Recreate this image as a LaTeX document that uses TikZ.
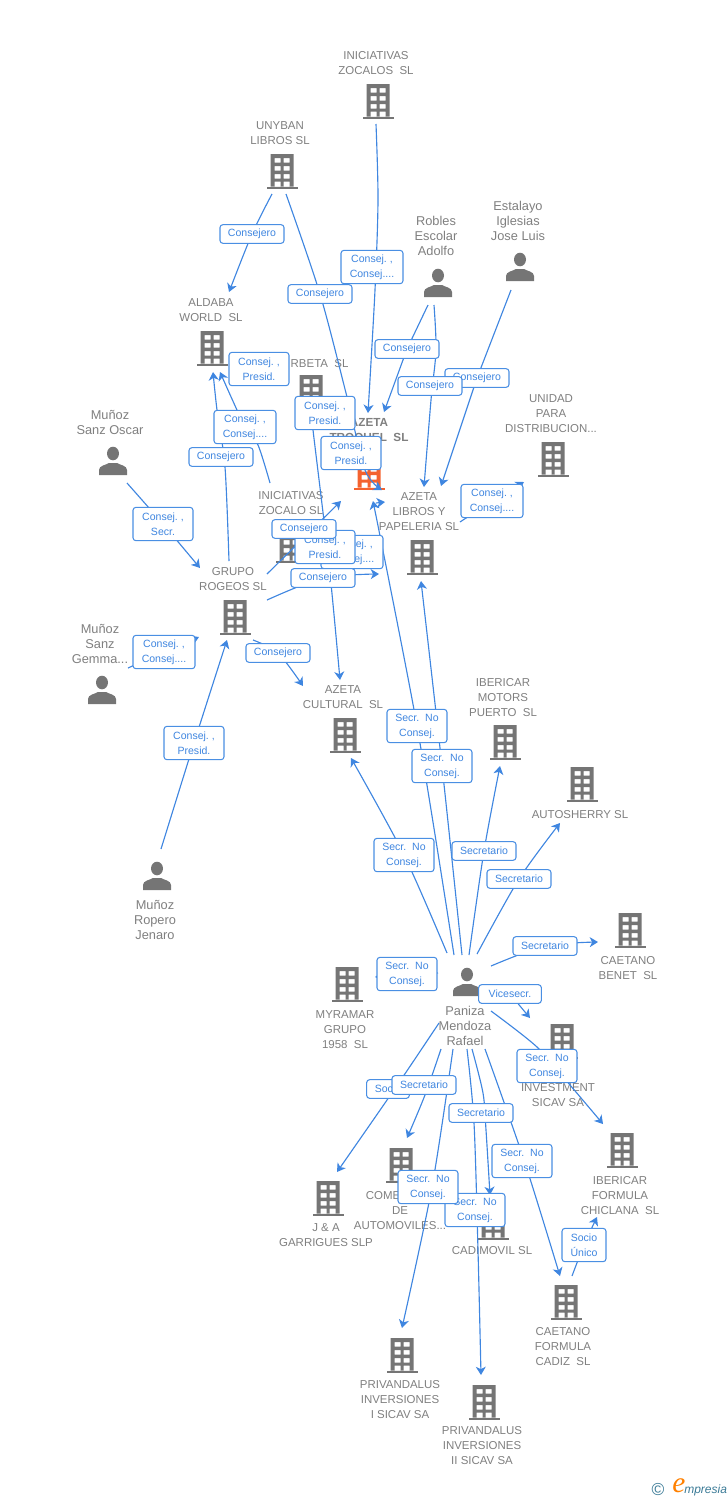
\documentclass[tikz,border=0pt]{standalone}
\usepackage{fontspec}
\setmainfont{Liberation Sans}
\newfontfamily\logoserif{Liberation Serif}
\usetikzlibrary{arrows.meta}
\pgfdeclarelayer{entlayer}
\pgfdeclarelayer{linelayer}
\pgfsetlayers{entlayer,linelayer,main}
\definecolor{icong}{HTML}{757575}
\definecolor{textg}{HTML}{7F7F7F}
\definecolor{linkb}{HTML}{3F86E0}
\definecolor{boxb}{HTML}{4A8FE3}
\definecolor{orng}{HTML}{F4622F}
\definecolor{logob}{HTML}{3A7A96}
\tikzset{
  ent/.style={align=center,text=textg,inner sep=0pt,yshift=-0.75pt,font=\fontsize{8.6}{11.25}\selectfont},
  who/.style={ent,font=\fontsize{9.6}{11.25}\selectfont},
  entbold/.style={ent,font=\fontsize{8.8}{11.25}\selectfont\bfseries},
  lab/.style={draw=boxb,fill=white,rounded corners=2.2pt,line width=0.8pt,align=center,text=linkb,
    inner sep=0pt,font=\fontsize{7.9}{11.25}\selectfont},
  lab1/.style={lab,minimum width=48pt,minimum height=14pt},
  lab2/.style={lab,minimum width=45pt,minimum height=25pt},
  conn/.style={draw=linkb,line width=0.85pt,-{Stealth[length=6.2pt,width=7.5pt,inset=1.8pt]}},
  pics/bldg/.style={code={
    \fill[#1] (-15.5,15.5) rectangle (15.5,17.5);
    \fill[#1,even odd rule] (-11.5,-17) rectangle (11.5,15.5)
      (-7.5,-13) rectangle (-1.5,-8.5) (1.5,-13) rectangle (7.5,-8.5)
      (-7.5,-5) rectangle (-1.5,-0.5) (1.5,-5) rectangle (7.5,-0.5)
      (-7.5,3) rectangle (-1.5,7.5) (1.5,3) rectangle (7.5,7.5)
      (-7.5,10.5) rectangle (-1.5,15.5) (1.5,10.5) rectangle (7.5,15.5);
  }},
  pics/persn/.style={code={
    \fill[icong] (0,-7.5) ellipse (6 and 6.8);
    \fill[icong] (-14,14) -- (-14,9) .. controls (-14,4.5) and (-7,4) .. (-4,2) -- (4,2)
      .. controls (7,4) and (14,4.5) .. (14,9) -- (14,14) -- cycle;
  }}
}
\begin{document}
\begin{tikzpicture}[x=0.75pt,y=-0.75pt]
\useasboundingbox (0,0) rectangle (728,1500);
\begin{pgfonlayer}{entlayer}
\node[ent] (zocalos) at (376,62.5) {INICIATIVAS\\ZOCALOS\ \ SL};
\pic at (378,101) {bldg=icong};
\node[ent] (unyban) at (280,132.5) {UNYBAN\\LIBROS SL};
\pic at (282,171) {bldg=icong};
\node[ent] (aldaba) at (211,309.5) {ALDABA\\WORLD\ \ SL};
\pic at (212,348) {bldg=icong};
\node[who] (robles) at (436,235) {Robles\\Escolar\\Adolfo};
\pic at (438,283) {persn};
\node[who] (estalayo) at (518,220) {Estalayo\\Iglesias\\Jose Luis};
\pic at (520,267) {persn};
\node[ent] (corbeta) at (311,363) {\phantom{CO}RBETA\ \ SL};
\pic at (311,392) {bldg=icong};
\node[entbold] (troquel) at (369,430.5) {AZETA\\TROQUEL\ \ SL};
\pic at (369,472) {bldg=orng};
\node[ent] (unidad) at (551,413) {UNIDAD\\PARA\\DISTRIBUCION...};
\pic at (553,459) {bldg=icong};
\node[who] (oscar) at (110,421.5) {Muñoz\\Sanz Oscar};
\pic at (113,461) {persn};
\node[ent] (libros) at (419,511) {AZETA\\LIBROS Y\\PAPELERIA SL};
\pic at (422,557) {bldg=icong};
\node[ent] (zocalo) at (291,502.5) {INICIATIVAS\\ZOCALO SL};
\pic at (291,545) {bldg=icong};
\node[ent] (rogeos) at (233,578.5) {GRUPO\\ROGEOS SL};
\pic at (235,617) {bldg=icong};
\node[who] (gemma) at (100,643) {Muñoz\\Sanz\\Gemma...};
\pic at (102,690) {persn};
\node[ent] (cultural) at (343,696.5) {AZETA\\CULTURAL\ \ SL};
\pic at (345,735) {bldg=icong};
\node[ent] (motors) at (503,697) {IBERICAR\\MOTORS\\PUERTO\ \ SL};
\pic at (505,742) {bldg=icong};
\node[ent] (autosherry) at (580,814) {AUTOSHERRY SL};
\pic at (582,784) {bldg=icong};
\node[who] (jenaro) at (155,919) {Muñoz\\Ropero\\Jenaro};
\pic at (157,876) {persn};
\node[ent] (benet) at (628,967.5) {CAETANO\\BENET\ \ SL};
\pic at (630,930) {bldg=icong};
\node[ent] (myramar) at (345,1029) {MYRAMAR\\GRUPO\\1958\ \ SL};
\pic at (347,984) {bldg=icong};
\node[who] (paniza) at (465,1025) {Paniza\\Mendoza\\Rafael};
\pic at (467,982) {persn};
\node[ent] (investment) at (558,1087) {\phantom{ABAC}S\\INVESTMENT\\SICAV SA};
\pic at (562,1041) {bldg=icong};
\node[ent] (chiclana) at (620,1195) {IBERICAR\\FORMULA\\CHICLANA\ \ SL};
\pic at (622,1150) {bldg=icong};
\node[ent] (garrigues) at (326,1234.5) {J \& A\\GARRIGUES SLP};
\pic at (328,1198) {bldg=icong};
\node[ent] (comercial) at (400,1210) {COME\phantom{RCIAL}\\DE\\AUTOMOVILES...};
\pic at (401,1165) {bldg=icong};
\node[ent] (cadimovil) at (492,1250) {CADIMOVIL SL};
\pic at (493,1222) {bldg=icong};
\node[ent] (cadiz) at (563,1346) {CAETANO\\FORMULA\\CADIZ\ \ SL};
\pic at (566,1302) {bldg=icong};
\node[ent] (priv1) at (400,1399) {PRIVANDALUS\\INVERSIONES\\I SICAV SA};
\pic at (402,1355) {bldg=icong};
\node[ent] (priv2) at (482,1445) {PRIVANDALUS\\INVERSIONES\\II SICAV SA};
\pic at (484,1402) {bldg=icong};
\end{pgfonlayer}

% connector labels, drawn last and on top
\node[lab1] (l1) at (252,234) {Consejero};
\node[lab2,minimum width=46.5pt] (l2) at (372,267) {Consej.\ ,\\Consej....};
\node[lab1] (l3) at (320,294) {Consejero};
\node[lab1] (l4) at (407,349) {Consejero};
\node[lab1] (l5) at (477,378) {Consejero};
\node[lab1] (l6) at (430,386) {Consejero};
\node[lab2] (l7) at (259,369) {Consej.\ ,\\Presid.};
\node[lab2,minimum width=46.5pt] (l8) at (245,427) {Consej.\ ,\\Consej....};
\node[lab1] (l9) at (221,457) {Consejero};
\node[lab2] (l10) at (325,413) {Consej.\ ,\\Presid.};
\node[lab2] (l11) at (351,453) {Consej.\ ,\\Presid.};
\node[lab2] (l12) at (163,524) {Consej.\ ,\\Secr.};
\node[lab2,minimum width=46.5pt] (l13) at (492,501) {Consej.\ ,\\Consej....};
\node[lab2,minimum width=46.5pt] (l14) at (352,552) {Consej.\ ,\\Consej....};
\node[lab2] (l15) at (325,547) {Consej.\ ,\\Presid.};
\node[lab1] (l16) at (304,529) {Consejero};
\node[lab1] (l17) at (323,578) {Consejero};
\node[lab2,minimum width=46.5pt] (l18) at (164,652) {Consej.\ ,\\Consej....};
\node[lab1] (l19) at (278,653) {Consejero};
\node[lab2] (l20) at (194,743) {Consej.\ ,\\Presid.};
\node[lab2] (l21) at (417,726) {Secr.\ \ No\\Consej.};
\node[lab2] (l22) at (442,766) {Secr.\ \ No\\Consej.};
\node[lab2] (l23) at (404,855) {Secr.\ \ No\\Consej.};
\node[lab1] (l24) at (484,851) {Secretario};
\node[lab1] (l25) at (519,879) {Secretario};
\node[lab1] (l26) at (545,946) {Secretario};
\node[lab2] (l27) at (407,974) {Secr.\ \ No\\Consej.};
\node[lab1,minimum width=47pt] (l28) at (510,994) {Vicesecr.};
\node[lab2] (l29) at (547,1066) {Secr.\ \ No\\Consej.};
\node[lab1,minimum width=32pt] (l30) at (388,1089) {Socio};
\node[lab1] (l31) at (424,1085) {Secretario};
\node[lab1] (l32) at (481,1113) {Secretario};
\node[lab2] (l33) at (522,1161) {Secr.\ \ No\\Consej.};
\node[lab2] (l35) at (475,1210) {Secr.\ \ No\\Consej.};
\node[lab2] (l34) at (428,1187) {Secr.\ \ No\\Consej.};
\node[lab2,minimum width=33pt] (l36) at (584,1245) {Socio\\Único};

\foreach \n/\x/\y in {
 a1/376/124,a1w/378/200,a1v/375/290,b1/368/413,
 a2/272/194,b2/229/292,
 a3/286/194,a3w/347/397,a3v/365/470,b3/382/490,
 a4/428/305,b4/384/412,
 a5/434/305,a5w/436/350,a5v/431/400,b5/424/487,
 a6/511/290,b6/441/486,
 a7/460/522,b7/524/482,
 a8/229/561,a8w/225/467,a8v/217/410,b8/213/372,
 a9/270/483,a9w/258/445,b9/220/372,
 a10/127/483,b10/200/568,
 a11/128/668,b11/199/637,
 a12/161/849,b12/227/640,
 a13/253/640,b13/303/686,
 a14/267/574,b14/341/501,
 a15/267/600,b15/379/574,
 a16/311/410,a16w/313/430,a16v/329/564,b16/340/680,
 a17/454/955,b17/373/501,
 a17b/376/503,b17b/385/502,
 a18/462/955,b18/421/581,
 a19/447/953,b19/351/758,
 a20/469/955,b20/500/766,
 a21/477/954,b21/560/823,
 a22/491/966,b22/598/942,
 a23/438/973,b23/375/977,
 a24/500/985,b24/530/1018,
 a25/491/1011,a25w/537/1047,a25v/570/1085,b25/603/1124,
 a26/439/1023,a26w/396/1087,b26/337/1172,
 a27/441/1049,a27w/425/1095,b27/407/1138,
 a28/453/1049,a28w/432/1187,b28/402/1328,
 a29/467/1049,a29w/474/1123,a29v/478/1250,b29/481/1375,
 a30/472/1049,a30w/483/1093,a30v/486/1130,b30/490/1195,
 a31/485/1049,a31w/524/1160,b31/560/1276,
 a32/572/1276,b32/597/1217}{\coordinate (\n) at (\x,\y);}

\begin{pgfonlayer}{linelayer}
\draw[conn] plot[smooth] coordinates {(a1) (a1w) (a1v) (b1)};
\draw[conn] plot[smooth] coordinates {(a2) (l1.center) (b2)};
\draw[conn] plot[smooth] coordinates {(a3) (l3.center) (a3w) (a3v) (b3)};
\draw[conn] (a4) -- (l4.center) -- (b4);
\draw[conn] plot[smooth] coordinates {(a5) (a5w) (a5v) (b5)};
\draw[conn] (a6) -- (l5.center) -- (b6);
\draw[conn] (a7) -- (l13.center) -- (b7);
\draw[conn] plot[smooth] coordinates {(a8) (a8w) (a8v) (b8)};
\draw[conn] plot[smooth] coordinates {(a9) (a9w) (l8.center) (b9)};
\draw[conn] plot[smooth] coordinates {(a10) (l12.center) (b10)};
\draw[conn] (a11) -- (l18.center) -- (b11);
\draw[conn] plot[smooth] coordinates {(a12) (l20.center) (b12)};
\draw[conn] plot[smooth] coordinates {(a13) (l19.center) (b13)};
\draw[conn] (a14) -- (b14);
\draw[conn] plot[smooth] coordinates {(a15) (l17.center) (b15)};
\draw[conn] plot[smooth] coordinates {(a16) (a16w) (a16v) (b16)};
\draw[conn] plot[smooth] coordinates {(a17) (l21.center) (b17)};
\draw[conn] (a17b) -- (b17b);
\draw[conn] plot[smooth] coordinates {(a18) (l22.center) (b18)};
\draw[conn] plot[smooth] coordinates {(a19) (l23.center) (b19)};
\draw[conn] plot[smooth] coordinates {(a20) (l24.center) (b20)};
\draw[conn] plot[smooth] coordinates {(a21) (l25.center) (b21)};
\draw[conn] plot[smooth] coordinates {(a22) (l26.center) (b22)};
\draw[conn] (a23) -- (l27.center) -- (b23);
\draw[conn] (a24) -- (l28.center) -- (b24);
\draw[conn] plot[smooth] coordinates {(a25) (a25w) (a25v) (b25)};
\draw[conn] plot[smooth] coordinates {(a26) (a26w) (b26)};
\draw[conn] plot[smooth] coordinates {(a27) (a27w) (b27)};
\draw[conn] plot[smooth] coordinates {(a28) (a28w) (b28)};
\draw[conn] plot[smooth] coordinates {(a29) (a29w) (a29v) (b29)};
\draw[conn] plot[smooth] coordinates {(a30) (a30w) (a30v) (b30)};
\draw[conn] plot[smooth] coordinates {(a31) (a31w) (b31)};
\draw[conn] plot[smooth] coordinates {(a32) (l36.center) (b32)};
\end{pgfonlayer}

% logo
\node[text=logob,font=\fontsize{13}{13}\selectfont,inner sep=0pt] (logoc) at (658,1489) {©};
\node[text=orange,font=\logoserif\itshape\fontsize{22}{22}\selectfont,inner sep=0pt] (logoe) at (679,1486) {e};
\node[text=logob,font=\itshape\fontsize{9}{9}\selectfont,inner sep=0pt,anchor=west] (logot) at (684,1490) {mpresia};
\end{tikzpicture}
\end{document}
